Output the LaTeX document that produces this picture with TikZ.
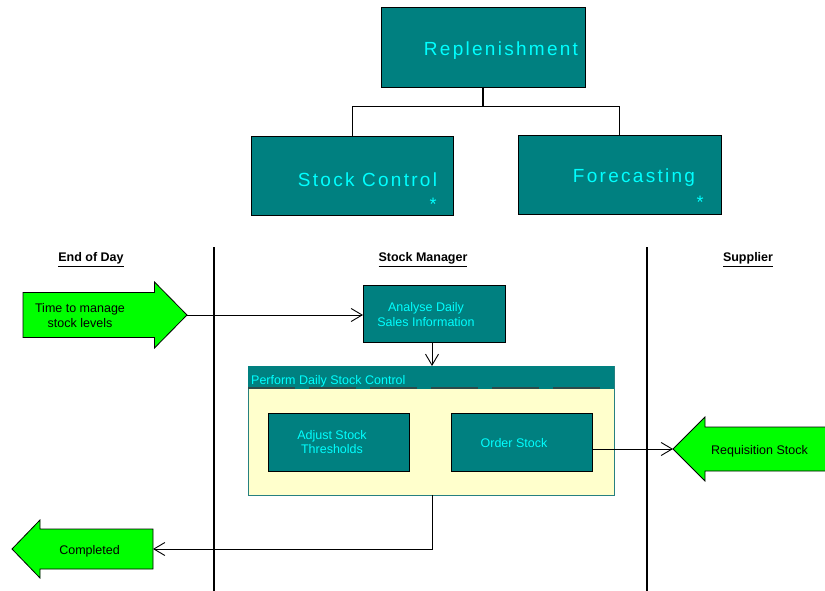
\documentclass[tikz,border=0pt]{standalone}
\usepackage{fontspec}
\setmainfont{Liberation Sans}
\newfontfamily\widefont[LetterSpace=12]{Liberation Sans}
\usetikzlibrary{arrows.meta}

\definecolor{tealbg}{HTML}{008080}
\definecolor{aquatxt}{HTML}{00FFFF}
\definecolor{flowgreen}{HTML}{00FF00}
\definecolor{paleyel}{HTML}{FFFFCC}
\definecolor{dashgray}{HTML}{2E4A4A}

\begin{document}
\begin{tikzpicture}[x=1pt,y=-1pt,
  tealbox/.style={draw=black, fill=tealbg, line width=0.9pt, inner sep=0pt, outer sep=0pt, anchor=north west},
  bigtxt/.style={text=aquatxt, font=\widefont\fontsize{19}{22}\selectfont, inner sep=0pt},
  startxt/.style={text=aquatxt, font=\fontsize{18}{20}\selectfont, inner sep=0pt},
  boxtxt/.style={text=aquatxt, font=\fontsize{12.5}{14.5}\selectfont, align=center, inner sep=0pt},
  greentxt/.style={text=black, font=\fontsize{12.5}{14.5}\selectfont, align=center, inner sep=0pt},
  lanehead/.style={font=\bfseries\fontsize{12.5}{14}\selectfont, inner sep=0pt},
  lane/.style={line width=2.3pt},
  flowarrow/.style={draw=black, fill=flowgreen, line width=0.8pt, line join=miter},
  conn/.style={line width=0.9pt, -{Straight Barb[length=11pt,width=13pt,line width=0.9pt]}},
  tree/.style={line width=1.1pt}
]
\useasboundingbox (0,0) rectangle (825,591);

% ---- hierarchy boxes ----
\node[tealbox, minimum width=204pt, minimum height=80pt] (rep) at (381,7) {};
\node[bigtxt] (reptxt) at (501,51) {Replenishment};
\node[tealbox, minimum width=202pt, minimum height=79pt] (sc) at (251,136) {};
\node[bigtxt] (sctxt) at (367.5,179.5) {Stock Control};
\node[startxt] (scstar) at (433,204) {*};
\node[tealbox, minimum width=203pt, minimum height=79pt] (fc) at (518,135) {};
\node[bigtxt] (fctxt) at (634,178) {Forecasting};
\node[startxt] (fcstar) at (700,202) {*};

\coordinate (jn) at (483,106.5);
\coordinate (jl) at (352.5,106.5);
\coordinate (jr) at (619.5,106.5);
\draw[tree] (rep.south) -- (jn);
\draw[tree] (jl) -- (jr);
\draw[tree] (jl) -- (jl |- sc.north);
\draw[tree] (jr) -- (jr |- fc.north);

% ---- swimlanes ----
\node[lanehead] (h1) at (91,259.5) {\underline{End of Day}};
\node[lanehead] (h2) at (423,259.5) {\underline{Stock Manager}};
\node[lanehead] (h3) at (748,259.5) {\underline{Supplier}};
\coordinate (l1t) at (214,247); \coordinate (l1b) at (214,591);
\coordinate (l2t) at (647,247); \coordinate (l2b) at (647,591);
\draw[lane] (l1t) -- (l1b);
\draw[lane] (l2t) -- (l2b);

% ---- trigger arrow ----
\draw[flowarrow] (23,292.5) -- (154.5,292.5) -- (154.5,282) -- (187,315)
  -- (154.5,348) -- (154.5,337.5) -- (23,337.5) -- cycle;
\coordinate (t1) at (187,315);
\node[greentxt] (t1txt) at (80,315.5) {Time to manage\\stock levels};

% ---- activities ----
\node[tealbox, minimum width=142pt, minimum height=57pt] (an) at (363,285) {};
\node[boxtxt] (antxt) at (426,314.5) {Analyse Daily\\Sales Information};

\node[draw=tealbg!70!gray, fill=paleyel, line width=0.8pt, minimum width=366pt, minimum height=129pt,
  inner sep=0pt, outer sep=0pt, anchor=north west] (pd) at (248,366) {};
\fill[tealbg] (248,366) rectangle (614,389);
\draw[dashgray, line width=2pt, dash pattern=on 47pt off 14pt] (248,388) -- (603,388);
\node[text=aquatxt, font=\fontsize{12.5}{14}\selectfont, inner sep=0pt, anchor=west] (pdtxt) at (251,381) {Perform Daily Stock Control};

\node[tealbox, minimum width=141pt, minimum height=58pt] (ad) at (268,413) {};
\node[boxtxt] (adtxt) at (332,442) {Adjust Stock\\Thresholds};
\node[tealbox, minimum width=141pt, minimum height=58pt] (os) at (451,413) {};
\node[boxtxt] (ostxt) at (514,443.5) {Order Stock};

% ---- supplier arrow ----
\draw[flowarrow] (673,449) -- (705,417) -- (705,427) -- (830,427)
  -- (830,471) -- (705,471) -- (705,481) -- cycle;
\coordinate (rq) at (673,449);
\node[greentxt] (rqtxt) at (759.5,451) {Requisition Stock};

% ---- completion arrow ----
\draw[flowarrow] (12,549) -- (40,520) -- (40,529) -- (153,529)
  -- (153,569) -- (40,569) -- (40,578) -- cycle;
\coordinate (ce) at (153,549);
\node[greentxt] (cetxt) at (89.5,551) {Completed};

% ---- flows ----
\draw[conn] (t1) -- (an.west |- t1);
\draw[conn] (432,342) -- (432,366);
\draw[conn] (rq -| os.east) -- (rq);
\draw[conn] (432,495) |- (ce);
\end{tikzpicture}
\end{document}
